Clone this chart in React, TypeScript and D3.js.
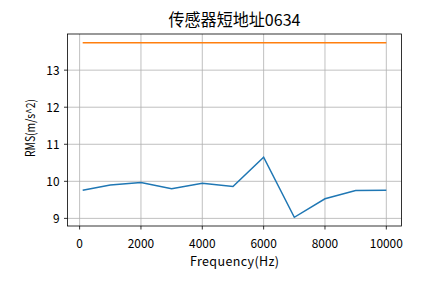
import React from "react";
import * as d3 from "d3";

const title = "传感器短地址0634";
const xLabel = "Frequency(Hz)";
const yLabel = "RMS(m/s^2)";
const freqs = [100, 1000, 2000, 3000, 4000, 5000, 6000, 7000, 8000, 9000, 10000];
const rmsBlue = [9.76, 9.9, 9.97, 9.8, 9.95, 9.86, 10.65, 9.03, 9.53, 9.75, 9.76];
const rmsOrange = [13.74, 13.74, 13.74, 13.74, 13.74, 13.74, 13.74, 13.74, 13.74, 13.74, 13.74];
const xTicks = [0, 2000, 4000, 6000, 8000, 10000];
const yTicks = [9, 10, 11, 12, 13];

const W = 445, H = 283;
const L = 67.5, R = 401.5, T = 34, B = 226;
const FONT = "'Noto Sans CJK SC', sans-serif";

export default function App() {
  const all = [...rmsBlue, ...rmsOrange];
  const ymin = d3.min(all)!, ymax = d3.max(all)!;
  const yPad = (ymax - ymin) * 0.05;
  const xPad = (10000 - 100) * 0.05;
  const x = d3.scaleLinear().domain([100 - xPad, 10000 + xPad]).range([L, R]);
  const y = d3.scaleLinear().domain([ymin - yPad, ymax + yPad]).range([B, T]);
  const line = d3.line<number>().x((_, i) => x(freqs[i])).y((d) => y(d));
  return (
    <svg width={W} height={H} style={{ position: "absolute", left: 0, top: 0 }} fontFamily={FONT}>
      <rect width={W} height={H} fill="#fff" />
      {xTicks.map((t) => (
        <g key={"x" + t}>
          <line x1={x(t)} x2={x(t)} y1={T} y2={B} stroke="#b0b0b0" strokeWidth={0.8} />
          <line x1={x(t)} x2={x(t)} y1={B} y2={B + 3.5} stroke="#000" strokeWidth={0.8} />
          <text x={x(t)} y={247.5} textAnchor="middle" fontSize={12.5} fill="#000"
            textLength={String(t).length * 6.6} lengthAdjust="spacingAndGlyphs">{t}</text>
        </g>
      ))}
      {yTicks.map((t) => (
        <g key={"y" + t}>
          <line x1={L} x2={R} y1={y(t)} y2={y(t)} stroke="#b0b0b0" strokeWidth={0.8} />
          <line x1={L - 3.5} x2={L} y1={y(t)} y2={y(t)} stroke="#000" strokeWidth={0.8} />
          <text x={L - 8} y={y(t) + 4.5} textAnchor="end" fontSize={12.5} fill="#000"
            textLength={String(t).length * 6.6} lengthAdjust="spacingAndGlyphs">{t}</text>
        </g>
      ))}
      <path d={line(rmsBlue)!} fill="none" stroke="#1f77b4" strokeWidth={1.5} />
      <path d={line(rmsOrange)!} fill="none" stroke="#ff7f0e" strokeWidth={1.5} />
      <rect x={L} y={T} width={R - L} height={B - T} fill="none" stroke="#000" strokeWidth={0.8} />
      <text x={(L + R) / 2} y={26} textAnchor="middle" fontSize={16.5} fill="#000"
        textLength={132} lengthAdjust="spacingAndGlyphs">{title}</text>
      <text x={(L + R) / 2} y={265.5} textAnchor="middle" fontSize={12.5} fill="#000"
        textLength={89} lengthAdjust="spacing">{xLabel}</text>
      <text transform={`translate(34.5,128) rotate(-90)`} textAnchor="middle" fontSize={12.5} fill="#000"
        textLength={58} lengthAdjust="spacingAndGlyphs">{yLabel}</text>
    </svg>
  );
}
